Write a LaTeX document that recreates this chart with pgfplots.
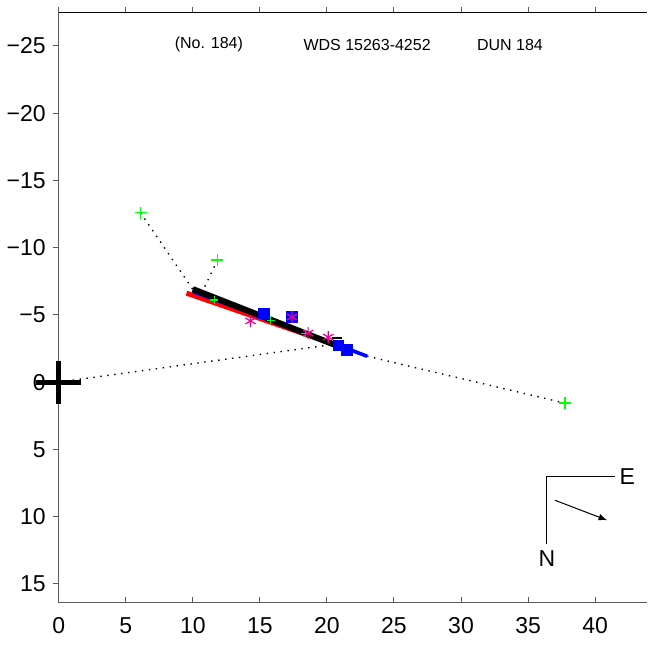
\documentclass[border=0pt]{standalone}
\usepackage{fontspec}
\setmainfont{Liberation Sans}
\usepackage{pgfplots}
\pgfplotsset{compat=1.18}
\begin{document}
\begin{tikzpicture}
\pgfplotsset{
 common/.style={width=294.5pt,height=295pt,scale only axis,
  xmin=0,xmax=43.9,ymin=-27.45,ymax=16.4,y dir=reverse,
  xtick={0,5,...,40}, ytick={-25,-20,...,15},
  tick label style={font=\fontsize{11.5}{13}\selectfont},
  major tick length=3pt,
 }
}
\begin{axis}[common, axis x line*=top, axis y line=none, xtick align=outside,
  xticklabels={}, xticklabel style={overlay}, axis line style={black, line width=0.5pt}, tick style={gray!70!black, line width=0.5pt}]
\end{axis}
\begin{axis}[common, name=main, axis x line*=bottom, axis y line*=left, xtick align=inside, ytick align=outside,
  yticklabels={−25,−20,−15,−10,−5,0,5,10,15},
  xticklabels={0,5,10,15,20,25,30,35,40},
  axis line style={gray!70!black, line width=0.6pt}, tick style={gray!70!black, line width=0.5pt},
  xticklabel style={yshift=-4pt},
  clip=false]
% dotted residual lines
\addplot[black, line width=0.7pt, dash pattern=on 0.7pt off 2.8pt] coordinates {(6.1,-12.6) (10.0,-6.9)};
\addplot[black, line width=0.7pt, dash pattern=on 0.7pt off 2.8pt] coordinates {(11.84,-9.08) (10.7,-6.7)};
\addplot[black, line width=0.7pt, dash pattern=on 0.7pt off 2.8pt] coordinates {(0,0) (20.8,-2.85)};
\addplot[black, line width=0.7pt, dash pattern=on 0.7pt off 2.8pt] coordinates {(23.0,-1.93) (37.75,1.56)};
% green observations
\addplot[only marks, mark=+, mark size=3pt, color=green, mark options={solid, line width=0.7pt, green}] coordinates {(6.1,-12.6) (11.84,-9.08) (37.75,1.56)};
\addplot[only marks, mark=+, mark size=2pt, color=green, mark options={solid, line width=0.7pt, green}] coordinates {(11.6,-6.1) (15.8,-4.6) (18.4,-3.6)};
% blue squares
\addplot[only marks, mark=square*, mark size=2.6pt, color=blue] coordinates {(15.3,-5.1) (17.4,-4.85) (20.85,-2.75) (21.5,-2.4)};
% magenta asterisks
\addplot[only marks, mark=asterisk, mark size=3pt, color=magenta, mark options={line width=0.6pt}] coordinates {(14.3,-4.55) (17.4,-4.85) (18.6,-3.65) (20.1,-3.35)};
% fitted orbits
\addplot[red, line width=2.5pt] coordinates {(9.53,-6.62) (21.2,-2.6)};
\addplot[blue, line width=1.8pt] coordinates {(10.0,-6.75) (23.0,-1.93)};
\addplot[black, line width=3pt] coordinates {(10.0,-6.92) (21.97,-2.23)};
\addplot[black, line width=0.8pt] coordinates {(20.4,-3.3) (21.1,-3.3)};
% primary star cross
\addplot[black, line width=2.5pt] coordinates {(-1.7,0) (1.64,0)};
\addplot[black, line width=2.5pt] coordinates {(0,-1.6) (0,1.6)};
% compass
\addplot[black, line width=0.6pt] coordinates {(41.5,7.0) (36.4,7.0) (36.4,12.0)};
\addplot[black, line width=0.5pt, -latex] coordinates {(37.0,8.78) (40.9,10.27)};
\node[font=\fontsize{11.5}{13}\selectfont] at (axis cs:42.4,7.05) {E};
\node[font=\fontsize{11.5}{13}\selectfont] at (axis cs:36.4,13.1) {N};
% title texts
\node[font=\fontsize{8}{10}\selectfont] at (axis cs:11.2,-25.1) {(No. 184)};
\node[font=\fontsize{8}{10}\selectfont] at (axis cs:23.0,-25.1) {WDS 15263-4252};
\node[font=\fontsize{8}{10}\selectfont] at (axis cs:33.65,-25.1) {DUN 184};
\end{axis}
\path ([xshift=-29pt,yshift=-22.5pt]main.south west) ([yshift=6.5pt]main.north east);
\end{tikzpicture}
\end{document}
